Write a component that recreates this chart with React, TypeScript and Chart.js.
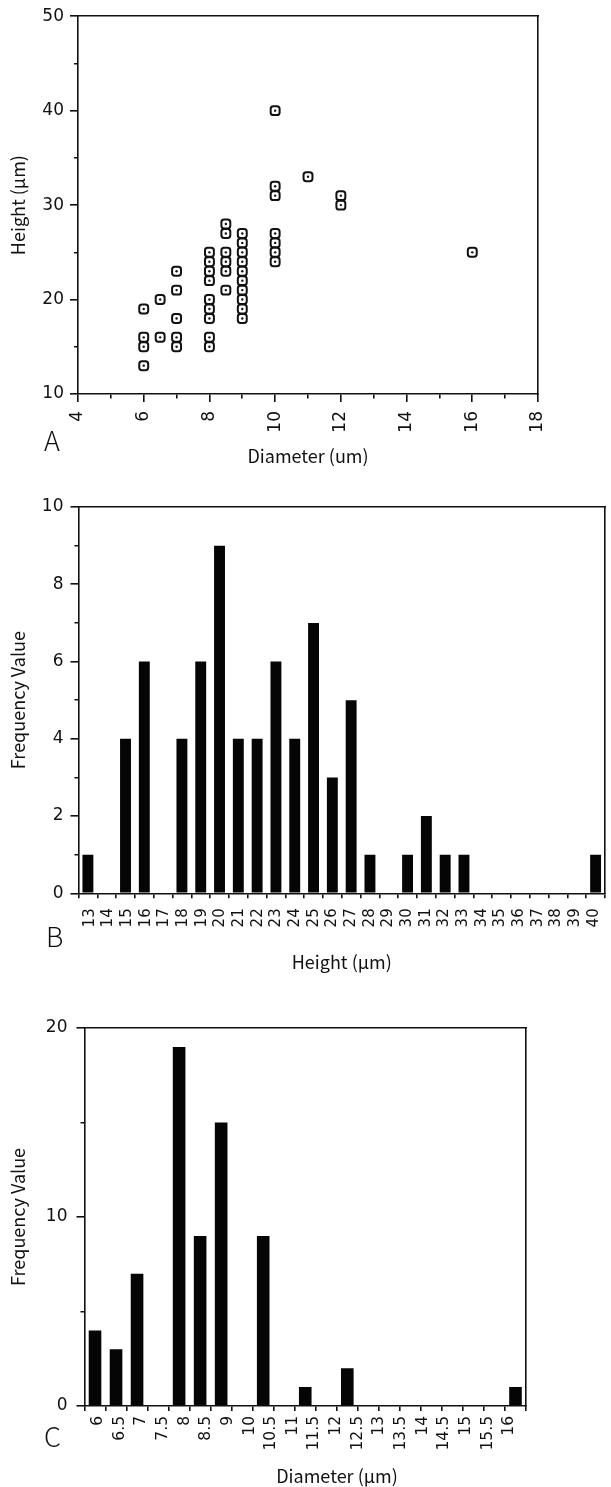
import React, { useEffect, useRef } from 'react';
import { Chart, registerables } from 'chart.js';

Chart.register(...registerables);

// ---------- Panel A: scatter, Height vs Diameter ----------
const scatterDiameter = [
  6, 6, 6, 6,
  6.5, 6.5,
  7, 7, 7, 7, 7,
  8, 8, 8, 8, 8, 8, 8, 8, 8,
  8.5, 8.5, 8.5, 8.5, 8.5, 8.5,
  9, 9, 9, 9, 9, 9, 9, 9, 9, 9,
  10, 10, 10, 10, 10, 10, 10,
  11,
  12, 12,
  16,
];
const scatterHeight = [
  19, 16, 15, 13,
  20, 16,
  23, 21, 18, 16, 15,
  25, 24, 23, 22, 20, 19, 18, 16, 15,
  28, 27, 25, 24, 23, 21,
  27, 26, 25, 24, 23, 22, 21, 20, 19, 18,
  40, 32, 31, 27, 26, 25, 24,
  33,
  31, 30,
  25,
];

// ---------- Panel B: height histogram ----------
const heightBins = [13, 14, 15, 16, 17, 18, 19, 20, 21, 22, 23, 24, 25, 26, 27, 28, 29, 30, 31, 32, 33, 34, 35, 36, 37, 38, 39, 40];
const heightFreq = [1, 0, 4, 6, 0, 4, 6, 9, 4, 4, 6, 4, 7, 3, 5, 1, 0, 1, 2, 1, 1, 0, 0, 0, 0, 0, 0, 1];
const heightTickLabels = ['13', '14', '15', '16', '17', '18', '19', '20', '21', '22', '23', '24', '25', '26', '27', '28', '29', '30', '31', '32', '33', '34', '35', '36', '37', '38', '39', '40'];

// ---------- Panel C: diameter histogram ----------
const diameterBins = [6, 6.5, 7, 7.5, 8, 8.5, 9, 9.5, 10, 10.5, 11, 11.5, 12, 12.5, 13, 13.5, 14, 14.5, 15, 15.5, 16];
const diameterFreq = [4, 3, 7, 0, 19, 9, 15, 0, 9, 0, 1, 0, 2, 0, 0, 0, 0, 0, 0, 0, 1];
const diameterTickLabels = ['6', '6.5', '7', '7.5', '8', '8.5', '9', '10', '10.5', '11', '11.5', '12', '12.5', '13', '13.5', '14', '14.5', '15', '15.5', '16'];

const INK = '#111111';
const BAR = '#050505';
const TICK_FONT = '"DejaVu Sans", "Liberation Sans", sans-serif';
const TITLE_FONT = '"Noto Sans CJK KR", "Noto Sans", sans-serif';
const AXIS_W = 1.6;

const leftDash = (minor: boolean) => (minor ? [0, 4, 4, 100] : []);
const bottomDash = (minor: boolean) => (minor ? [4, 100] : []);

function frame(xmin: number, xmax: number) {
  return {
    xTop: {
      type: 'linear',
      position: 'top',
      min: xmin,
      max: xmax,
      ticks: { display: false },
      grid: { display: false, drawTicks: false },
      border: { display: true, color: INK, width: AXIS_W },
      afterFit: (s: any) => { s.height = 0; },
    },
    yRight: {
      type: 'linear',
      position: 'right',
      min: 0,
      max: 1,
      ticks: { display: false },
      grid: { display: false, drawTicks: false },
      border: { display: true, color: INK, width: AXIS_W },
      afterFit: (s: any) => { s.width = 0; },
    },
  };
}

function yAxis(min: number, max: number, step: number, major: number, title: string, width: number, pad: number) {
  return {
    type: 'linear',
    position: 'left',
    min,
    max,
    ticks: {
      stepSize: step,
      autoSkip: false,
      padding: pad,
      color: INK,
      font: { family: TICK_FONT, size: 17 },
      callback: (v: any) => (Math.abs(v % major) < 1e-9 ? String(v) : ''),
    },
    grid: {
      drawOnChartArea: false,
      drawTicks: true,
      tickLength: 8,
      lineWidth: AXIS_W,
      tickWidth: AXIS_W,
      tickColor: INK,
      tickBorderDash: (ctx: any) => leftDash(!!ctx.tick && Math.abs(ctx.tick.value % major) > 1e-9),
    },
    border: { display: true, color: INK, width: AXIS_W },
    title: {
      display: true,
      text: title,
      color: INK,
      font: { family: TITLE_FONT, size: 18, lineHeight: 1.2 },
      padding: { top: 7, bottom: 0 },
    },
    afterFit: (s: any) => { s.width = width; },
  };
}

function useChart(ref: React.RefObject<HTMLCanvasElement>, make: () => any) {
  useEffect(() => {
    if (!ref.current) return;
    const chart = new Chart(ref.current, make());
    return () => chart.destroy();
  }, []);
}

const commonPlugins = { legend: { display: false }, tooltip: { enabled: false } };

function configA() {
  const pts = scatterDiameter.map((x, i) => ({ x, y: scatterHeight[i] }));
  return {
    type: 'scatter',
    data: {
      datasets: [
        { data: pts, xAxisID: 'x', yAxisID: 'y', pointStyle: 'circle', pointRadius: 1.2, borderWidth: 0, backgroundColor: INK, order: 1 },
        { data: pts, xAxisID: 'x', yAxisID: 'y', pointStyle: 'rectRounded', pointRadius: 5.2, borderWidth: 2, borderColor: INK, backgroundColor: '#ffffff', order: 2 },
      ],
    },
    options: {
      responsive: false,
      animation: false,
      events: [],
      layout: { padding: { left: 0, top: 14, right: 73, bottom: 0 } },
      plugins: commonPlugins,
      scales: {
        x: {
          type: 'linear',
          position: 'bottom',
          min: 4,
          max: 18,
          ticks: {
            stepSize: 1,
            autoSkip: false,
            minRotation: 90,
            maxRotation: 90,
            padding: 9,
            color: INK,
            font: { family: TICK_FONT, size: 17 },
            callback: (v: any) => (v % 2 === 0 ? String(v) : ''),
          },
          grid: {
            drawOnChartArea: false,
            tickLength: 8,
            lineWidth: AXIS_W,
            tickWidth: AXIS_W,
            tickColor: INK,
            tickBorderDash: (ctx: any) => bottomDash(!!ctx.tick && ctx.tick.value % 2 !== 0),
          },
          border: { display: true, color: INK, width: AXIS_W },
          title: {
            display: true,
            text: 'Diameter (um)',
            color: INK,
            font: { family: TITLE_FONT, size: 18, lineHeight: 1.2 },
            padding: { top: 0, bottom: 8 },
          },
          afterFit: (s: any) => { s.height = 81; },
        },
        y: yAxis(10, 50, 5, 10, 'Height (μm)', 78, 6),
        ...frame(4, 18),
      },
    },
  };
}

function histConfig(opts: {
  bins: number[];
  freq: number[];
  barPct: number;
  padTop: number;
  padRight: number;
  labelAxis: any;
  y: any;
}) {
  return {
    type: 'bar',
    data: {
      labels: opts.bins.map(String),
      datasets: [
        {
          data: opts.freq,
          xAxisID: 'x',
          yAxisID: 'y',
          backgroundColor: BAR,
          borderWidth: 0,
          barPercentage: opts.barPct,
          categoryPercentage: 1,
        },
      ],
    },
    options: {
      responsive: false,
      animation: false,
      events: [],
      layout: { padding: { left: 0, top: opts.padTop, right: opts.padRight, bottom: 0 } },
      plugins: commonPlugins,
      scales: {
        x: {
          type: 'category',
          position: 'bottom',
          offset: true,
          weight: 0,
          ticks: { display: false },
          grid: {
            offset: true,
            drawOnChartArea: false,
            tickLength: 5,
            lineWidth: AXIS_W,
            tickWidth: AXIS_W,
            tickColor: INK,
          },
          border: { display: true, color: INK, width: AXIS_W },
          afterFit: (s: any) => { s.height = 5; },
        },
        y: opts.y,
        xLabels: opts.labelAxis,
        ...frame(0, 1),
      },
    },
  };
}

function configB() {
  return histConfig({
    bins: heightBins,
    freq: heightFreq,
    barPct: 0.58,
    padTop: 32,
    padRight: 6,
    labelAxis: {
      type: 'linear',
      position: 'bottom',
      weight: 1,
      min: 12.9,
      max: 40.1,
      afterBuildTicks: (s: any) => { s.ticks = heightBins.map((v) => ({ value: v })); },
      ticks: {
        autoSkip: false,
        minRotation: 90,
        maxRotation: 90,
        padding: 10,
        color: INK,
        font: { family: TICK_FONT, size: 15 },
        callback: (v: any, i: number) => heightTickLabels[i],
      },
      grid: { display: false, drawTicks: false },
      border: { display: false },
      title: {
        display: true,
        text: 'Height (μm)',
        color: INK,
        font: { family: TITLE_FONT, size: 18, lineHeight: 1.2 },
        padding: { top: 0, bottom: 17 },
      },
      afterFit: (s: any) => { s.height = 91.7; s.paddingLeft = 0; s.paddingRight = 0; },
    },
    y: yAxis(0, 10, 1, 2, 'Frequency Value', 78.5, 7),
  });
}

function configC() {
  return histConfig({
    bins: diameterBins,
    freq: diameterFreq,
    barPct: 0.6,
    padTop: 38,
    padRight: 85,
    labelAxis: {
      type: 'linear',
      position: 'bottom',
      weight: 1,
      min: -0.11,
      max: 19.26,
      afterBuildTicks: (s: any) => { s.ticks = diameterTickLabels.map((_, i) => ({ value: i })); },
      ticks: {
        autoSkip: false,
        minRotation: 90,
        maxRotation: 90,
        padding: 5,
        color: INK,
        font: { family: TICK_FONT, size: 15.5 },
        callback: (v: any, i: number) => diameterTickLabels[i],
      },
      grid: { display: false, drawTicks: false },
      border: { display: false },
      afterFit: (s: any) => { s.height = 76; s.paddingLeft = 0; s.paddingRight = 0; },
    },
    y: yAxis(0, 20, 5, 10, 'Frequency Value', 84.5, 9),
  });
}

const letterStyle: React.CSSProperties = {
  position: 'absolute',
  fontFamily: TITLE_FONT,
  fontWeight: 300,
  fontSize: 27,
  lineHeight: '27px',
  color: INK,
  margin: 0,
};

export default function App() {
  const refA = useRef<HTMLCanvasElement>(null);
  const refB = useRef<HTMLCanvasElement>(null);
  const refC = useRef<HTMLCanvasElement>(null);
  useChart(refA, configA);
  useChart(refB, configB);
  useChart(refC, configC);

  return (
    <div style={{ position: 'absolute', left: 0, top: 0, width: 611, height: 1487, background: '#ffffff', overflow: 'hidden' }}>
      <canvas ref={refA} width={611} height={475} style={{ position: 'absolute', left: 0, top: 0, width: 611, height: 475 }} />
      <canvas ref={refB} width={611} height={515} style={{ position: 'absolute', left: 0, top: 475, width: 611, height: 515 }} />
      <canvas ref={refC} width={611} height={497} style={{ position: 'absolute', left: 0, top: 990, width: 611, height: 497 }} />
      <div style={{ ...letterStyle, left: 44, top: 426 }}>A</div>
      <div style={{ ...letterStyle, left: 46, top: 922 }}>B</div>
      <div style={{ ...letterStyle, left: 44, top: 1422 }}>C</div>
      <div
        style={{
          position: 'absolute',
          left: 337,
          top: 1464,
          transform: 'translateX(-50%)',
          whiteSpace: 'nowrap',
          fontFamily: TITLE_FONT,
          fontSize: 18,
          lineHeight: '22px',
          color: INK,
        }}
      >
        Diameter (μm)
      </div>
    </div>
  );
}
